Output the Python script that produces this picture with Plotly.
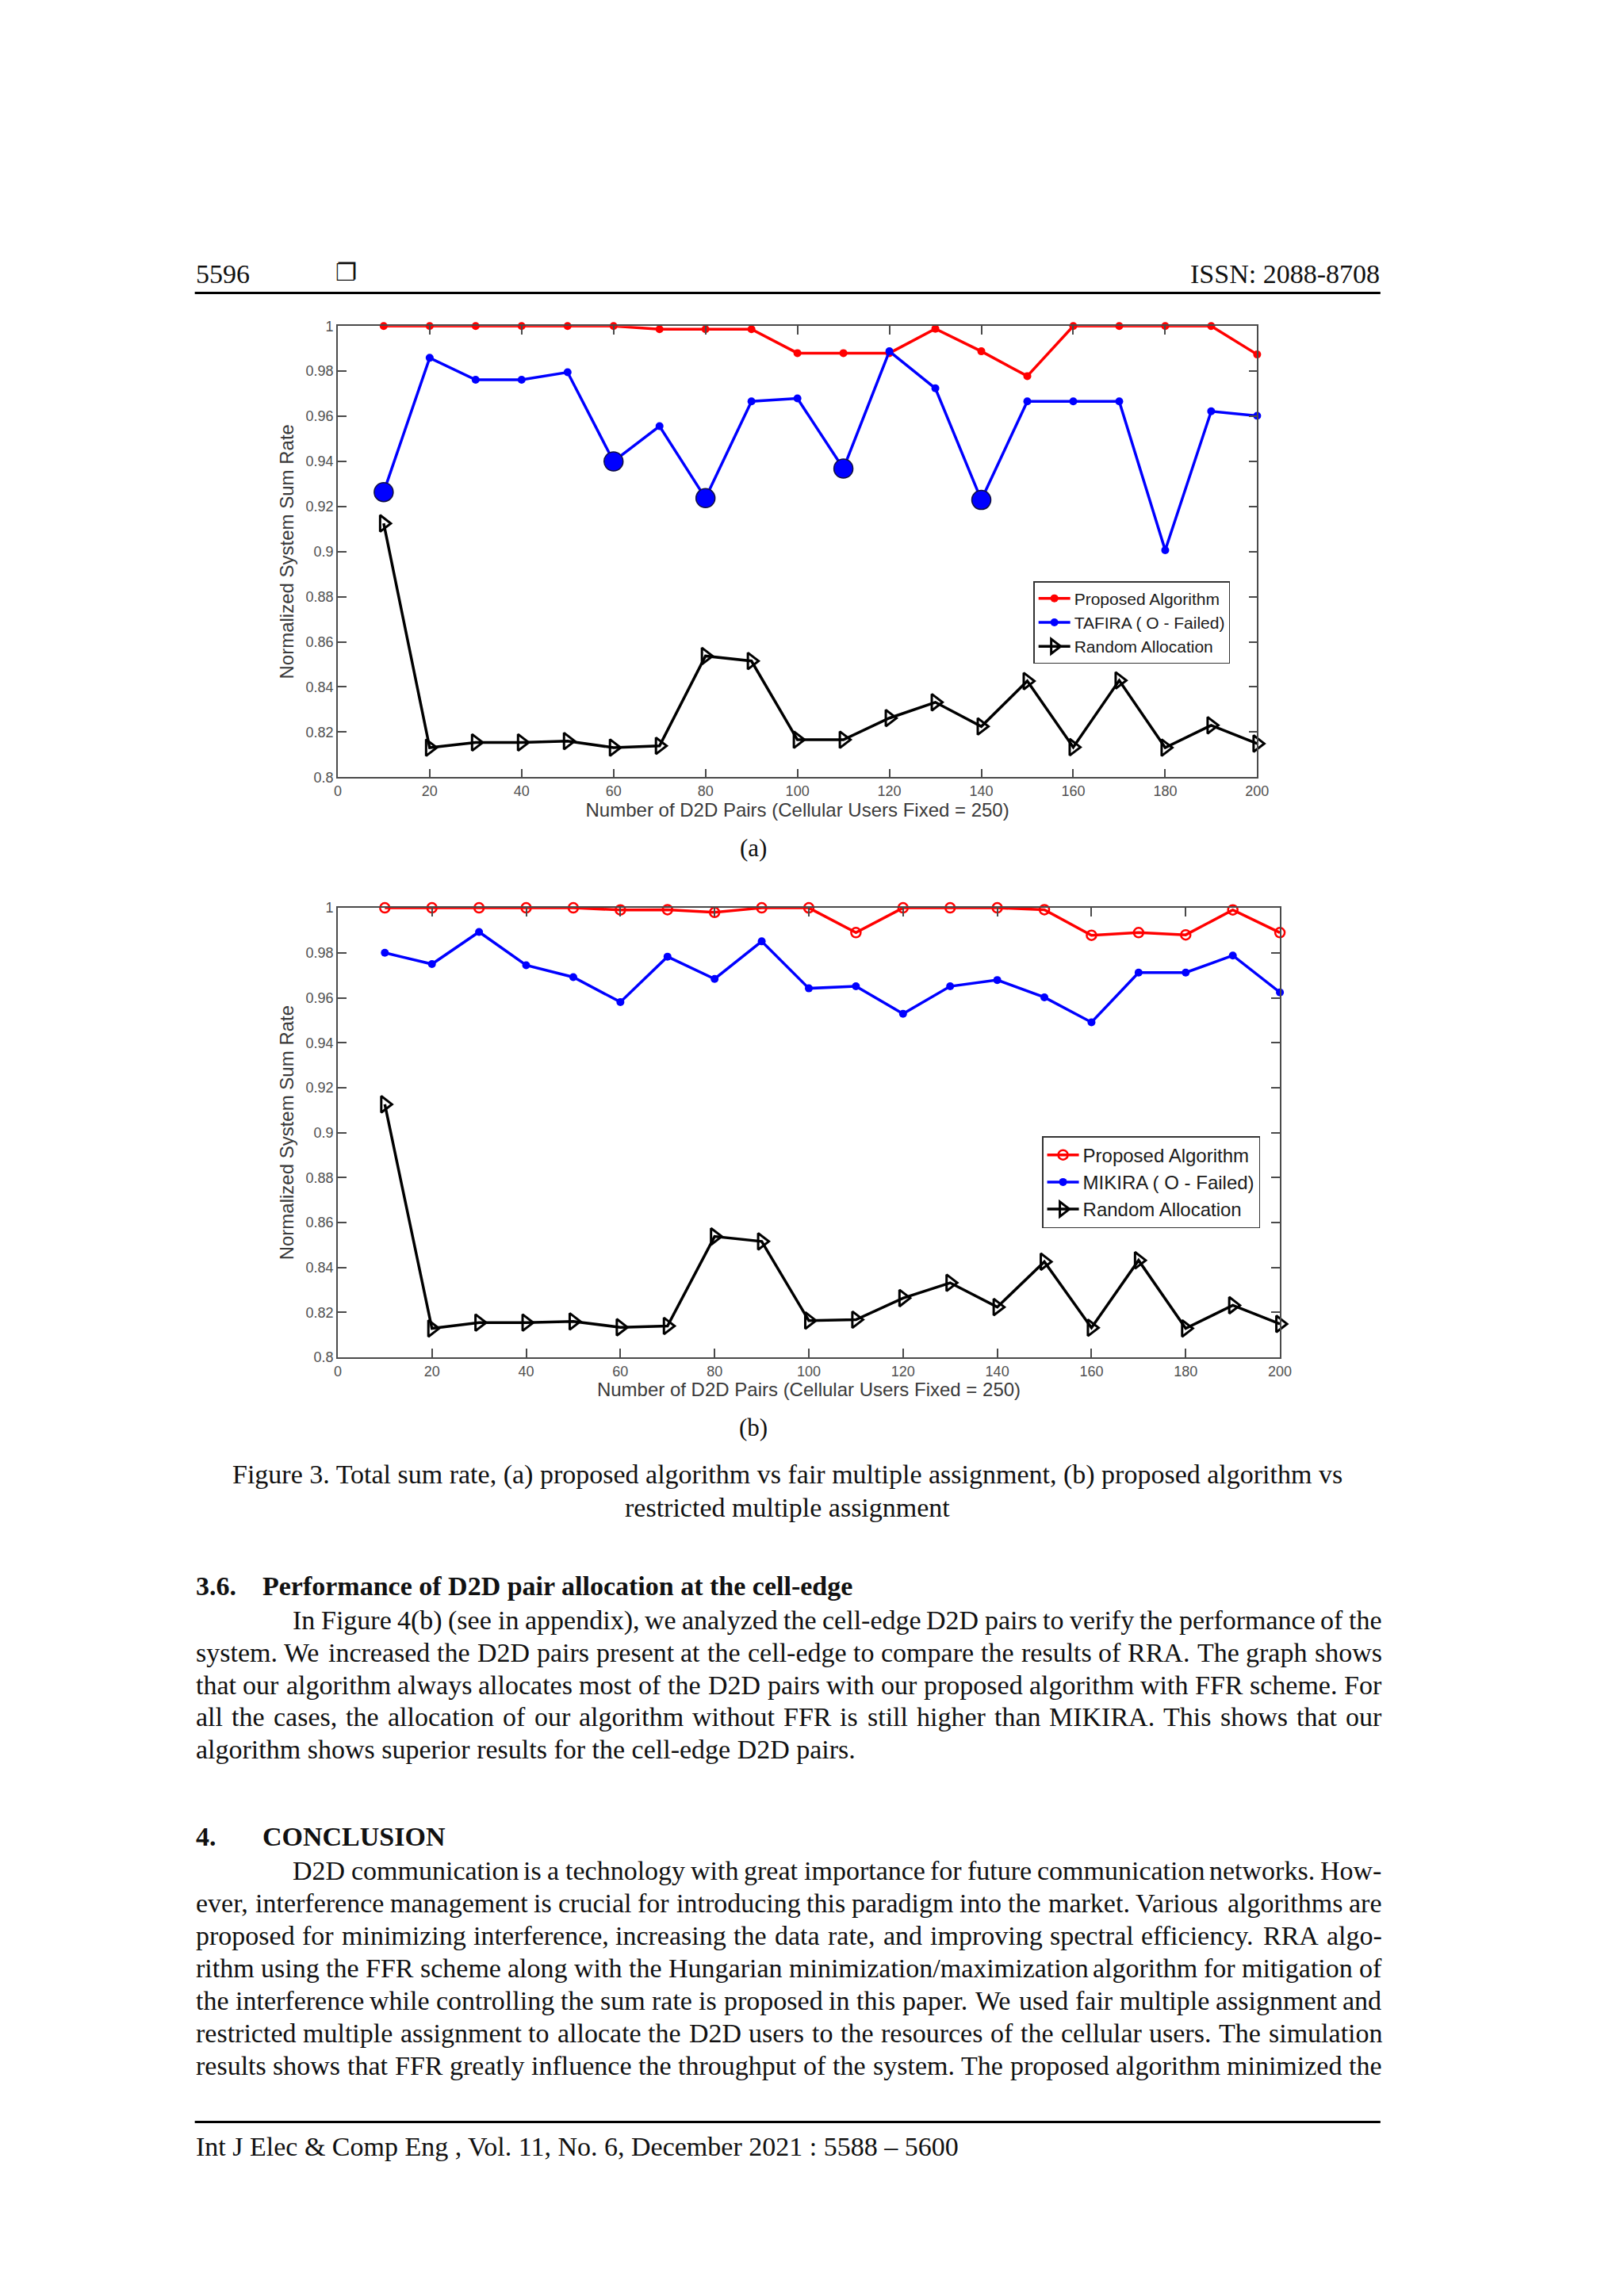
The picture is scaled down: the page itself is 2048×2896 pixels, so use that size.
import plotly.graph_objects as go

# ---------------- data ----------------
d2d_pairs = [10, 20, 30, 40, 50, 60, 70, 80, 90, 100,
             110, 120, 130, 140, 150, 160, 170, 180, 190, 200]

proposed_a = [1.0, 1.0, 1.0, 1.0, 1.0, 1.0, 0.9986, 0.9986, 0.9986, 0.988,
              0.988, 0.988, 0.9988, 0.9888, 0.9778, 1.0, 1.0, 1.0, 1.0, 0.9874]
tafira_a = [0.9264, 0.9859, 0.9762, 0.9762, 0.9795, 0.940, 0.9556, 0.9237, 0.9666, 0.9679,
            0.9368, 0.9888, 0.9724, 0.9229, 0.9666, 0.9666, 0.9666, 0.9006, 0.9622, 0.9602]
tafira_failed_x = [10, 60, 80, 110, 140]
random_a = [0.9125, 0.8131, 0.8154, 0.8154, 0.8160, 0.8131, 0.8139, 0.8537, 0.8515, 0.8166,
            0.8166, 0.8262, 0.8332, 0.8225, 0.8426, 0.8133, 0.8429, 0.8131, 0.8230, 0.8149]

proposed_b = [1.0, 1.0, 1.0, 1.0, 1.0, 0.9991, 0.9992, 0.998, 1.0, 1.0,
              0.989, 1.0, 1.0, 1.0, 0.9992, 0.9878, 0.989, 0.988, 0.9991, 0.989]
mikira_b = [0.980, 0.975, 0.9893, 0.9745, 0.9692, 0.9581, 0.9783, 0.9684, 0.9851, 0.9642,
            0.9651, 0.9529, 0.9651, 0.9679, 0.9602, 0.9491, 0.9712, 0.9712, 0.9788, 0.9624]
random_b = [0.9126, 0.8129, 0.8155, 0.8155, 0.8160, 0.8134, 0.8140, 0.8538, 0.8516, 0.8164,
            0.8168, 0.8264, 0.8332, 0.8224, 0.8426, 0.8132, 0.8432, 0.8129, 0.8232, 0.8149]

x_ticks = [0, 20, 40, 60, 80, 100, 120, 140, 160, 180, 200]
y_ticks = [0.8, 0.82, 0.84, 0.86, 0.88, 0.9, 0.92, 0.94, 0.96, 0.98, 1.0]
y_ticklabels = ["0.8", "0.82", "0.84", "0.86", "0.88", "0.9", "0.92", "0.94", "0.96", "0.98", "1"]

x_title = "Number of D2D Pairs (Cellular Users Fixed = 250)"
y_title = "Normalized System Sum Rate"

caption = ["Figure 3. Total sum rate, (a) proposed algorithm vs fair multiple assignment, (b) proposed algorithm vs",
           "restricted multiple assignment"]
para1 = [
    "In Figure 4(b) (see in appendix), we analyzed the cell-edge D2D pairs to verify the performance of the",
    "system. We increased the D2D pairs present at the cell-edge to compare the results of RRA. The graph shows",
    "that our algorithm always allocates most of the D2D pairs with our proposed algorithm with FFR scheme. For",
    "all the cases, the allocation of our algorithm without FFR is still higher than MIKIRA. This shows that our",
    "algorithm shows superior results for the cell-edge D2D pairs.",
]
para2 = [
    "D2D communication is a technology with great importance for future communication networks. How-",
    "ever, interference management is crucial for introducing this paradigm into the market. Various algorithms are",
    "proposed for minimizing interference, increasing the data rate, and improving spectral efficiency. RRA algo-",
    "rithm using the FFR scheme along with the Hungarian minimization/maximization algorithm for mitigation of",
    "the interference while controlling the sum rate is proposed in this paper. We used fair multiple assignment and",
    "restricted multiple assignment to allocate the D2D users to the resources of the cellular users. The simulation",
    "results shows that FFR greatly influence the throughput of the system. The proposed algorithm minimized the",
]

# ---------------- page geometry ----------------
OFF = 8                      # default body margin of the html page
W, H = 2048 - 2 * OFF, 2896 - 2 * OFF
def px(x):
    return (x - OFF) / W
def py(y):
    return 1 - (y - OFF) / H

RED, BLUE, BLACK = "#ff0000", "#0000ff", "#000000"
AX = "#4a4a4a"
SANS = "Liberation Sans, Arial, sans-serif"
SERIF = "Liberation Serif, Times New Roman, serif"
BODY = 34

# approximate Times advance widths (1/1000 em) for justification
TW = {' ': 250, '!': 333, '(': 333, ')': 333, ',': 250, '-': 333, '.': 250, '/': 278, ':': 278, ';': 278,
      'A': 722, 'B': 667, 'C': 667, 'D': 722, 'E': 611, 'F': 556, 'G': 722, 'H': 722, 'I': 333, 'J': 389,
      'K': 722, 'L': 611, 'M': 889, 'N': 722, 'O': 722, 'P': 556, 'Q': 722, 'R': 667, 'S': 556, 'T': 611,
      'U': 722, 'V': 722, 'W': 944, 'X': 722, 'Y': 722, 'Z': 611,
      'a': 444, 'b': 500, 'c': 444, 'd': 500, 'e': 444, 'f': 333, 'g': 500, 'h': 500, 'i': 278, 'j': 278,
      'k': 500, 'l': 278, 'm': 778, 'n': 500, 'o': 500, 'p': 500, 'q': 500, 'r': 333, 's': 389, 't': 278,
      'u': 500, 'v': 500, 'w': 722, 'x': 500, 'y': 500, 'z': 444}
def text_width(s, size):
    return sum(TW.get(c, 500) for c in s) * size / 1000.0

fig = go.Figure()

# ---- panel (a)
fig.add_trace(go.Scatter(x=d2d_pairs, y=proposed_a, mode="lines+markers", name="Proposed Algorithm",
                         line=dict(color=RED, width=3.5), marker=dict(symbol="circle", size=10, color=RED),
                         cliponaxis=False, xaxis="x", yaxis="y", legend="legend"))
fig.add_trace(go.Scatter(x=d2d_pairs, y=tafira_a, mode="lines+markers", name="TAFIRA ( O - Failed)",
                         line=dict(color=BLUE, width=3.5), marker=dict(symbol="circle", size=10, color=BLUE),
                         cliponaxis=False, xaxis="x", yaxis="y", legend="legend"))
failed_y = [tafira_a[d2d_pairs.index(v)] for v in tafira_failed_x]
fig.add_trace(go.Scatter(x=tafira_failed_x, y=failed_y, mode="markers", showlegend=False,
                         marker=dict(symbol="circle", size=24, color=BLUE, line=dict(color="#101040", width=1.5)),
                         cliponaxis=False, xaxis="x", yaxis="y"))
fig.add_trace(go.Scatter(x=d2d_pairs, y=random_a, mode="lines+markers", name="Random Allocation",
                         line=dict(color=BLACK, width=3.5),
                         marker=dict(symbol="triangle-right-open", size=18, color=BLACK, line=dict(width=3)),
                         cliponaxis=False, xaxis="x", yaxis="y", legend="legend"))

# ---- panel (b)
fig.add_trace(go.Scatter(x=d2d_pairs, y=proposed_b, mode="lines+markers", name="Proposed Algorithm",
                         line=dict(color=RED, width=3.5),
                         marker=dict(symbol="circle-open", size=12, color=RED, line=dict(width=2.5)),
                         cliponaxis=False, xaxis="x2", yaxis="y2", legend="legend2"))
fig.add_trace(go.Scatter(x=d2d_pairs, y=mikira_b, mode="lines+markers", name="MIKIRA ( O - Failed)",
                         line=dict(color=BLUE, width=3.5), marker=dict(symbol="circle", size=10, color=BLUE),
                         cliponaxis=False, xaxis="x2", yaxis="y2", legend="legend2"))
fig.add_trace(go.Scatter(x=d2d_pairs, y=random_b, mode="lines+markers", name="Random Allocation",
                         line=dict(color=BLACK, width=3.5),
                         marker=dict(symbol="triangle-right-open", size=18, color=BLACK, line=dict(width=3)),
                         cliponaxis=False, xaxis="x2", yaxis="y2", legend="legend2"))

def xaxis(domain, anchor):
    return dict(domain=domain, anchor=anchor, range=[0, 200], tickvals=x_ticks,
                ticktext=[str(v) for v in x_ticks], showgrid=False, zeroline=False,
                showline=True, linecolor=AX, linewidth=1.5, mirror="ticks",
                ticks="inside", ticklen=11, tickwidth=1.5, tickcolor=AX,
                tickfont=dict(family=SANS, size=18, color="#505050"),
                title=dict(text=x_title, font=dict(family=SANS, size=24, color="#3a3a3a"), standoff=4))

def yaxis(domain, anchor):
    return dict(domain=domain, anchor=anchor, range=[0.8, 1.0], tickvals=y_ticks,
                ticktext=y_ticklabels, showgrid=False, zeroline=False,
                showline=True, linecolor=AX, linewidth=1.5, mirror="ticks",
                ticks="inside", ticklen=11, tickwidth=1.5, tickcolor=AX,
                tickfont=dict(family=SANS, size=18, color="#505050"),
                title=dict(text=y_title, font=dict(family=SANS, size=24, color="#3a3a3a"), standoff=8))

fig.update_layout(
    width=W, height=H, margin=dict(l=0, r=0, t=0, b=0),
    paper_bgcolor="white", plot_bgcolor="white",
    xaxis=xaxis([px(425), px(1596)], "y"),
    yaxis=yaxis([py(977), py(404)], "x"),
    xaxis2=xaxis([px(425), px(1625)], "y2"),
    yaxis2=yaxis([py(1714), py(1143)], "x2"),
    legend=dict(x=px(1311), y=py(728), xanchor="left", yanchor="top",
                bgcolor="white", bordercolor="#333333", borderwidth=1.5,
                font=dict(family=SANS, size=21, color="#1a1a1a"),
                tracegroupgap=0, itemwidth=40),
    legend2=dict(x=px(1322), y=py(1433), xanchor="left", yanchor="top",
                 bgcolor="white", bordercolor="#333333", borderwidth=1.5,
                 font=dict(family=SANS, size=24, color="#1a1a1a"),
                 tracegroupgap=0, itemwidth=40),
    showlegend=True,
)

# ---------------- page text ----------------
ann = []
def text(x, y, s, size=BODY, anchor="left", bold=False, family=SERIF):
    ann.append(dict(x=px(x), y=py(y), xref="paper", yref="paper", text=("<b>%s</b>" % s) if bold else s,
                    showarrow=False, xanchor=anchor, yanchor="middle", borderpad=0,
                    font=dict(family=family, size=size, color="#111111")))

def justified(x0, x1, y, line, size=BODY, last=False):
    words = line.split(" ")
    if last or len(words) < 2:
        text(x0, y, line, size=size)
        return
    widths = [text_width(w, size) for w in words]
    gap = (x1 - x0 - sum(widths)) / (len(words) - 1)
    x = x0
    for w, wd in zip(words, widths):
        text(x, y, w, size=size)
        x += wd + gap

text(243, 338, "5596")
text(421, 336, "❐", size=30, family="DejaVu Sans")
text(1753, 338, "ISSN: 2088-8708", anchor="right")
text(954, 1067, "(a)", size=31, anchor="center")
text(954, 1803, "(b)", size=31, anchor="center")
text(998, 1863, caption[0], anchor="center")
text(998, 1905, caption[1], anchor="center")

text(243, 2004, "3.6.", bold=True)
text(328, 2004, "Performance of D2D pair allocation at the cell-edge", bold=True)
for i, line in enumerate(para1):
    justified(367 if i == 0 else 243, 1753, 2048 + i * 41, line, last=(i == len(para1) - 1))

text(243, 2323, "4.", bold=True)
text(328, 2323, "CONCLUSION", bold=True)
for i, line in enumerate(para2):
    justified(367 if i == 0 else 243, 1753, 2366 + i * 41.2, line)

text(243, 2716, "Int J Elec &amp; Comp Eng , Vol. 11, No. 6, December 2021 : 5588 – 5600")

fig.update_layout(annotations=ann)
fig.add_shape(type="line", xref="paper", yref="paper", x0=px(243), x1=px(1753), y0=py(362), y1=py(362),
              line=dict(color="black", width=3))
fig.add_shape(type="line", xref="paper", yref="paper", x0=px(243), x1=px(1753), y0=py(2685), y1=py(2685),
              line=dict(color="black", width=3))

fig.write_html("out.html")
